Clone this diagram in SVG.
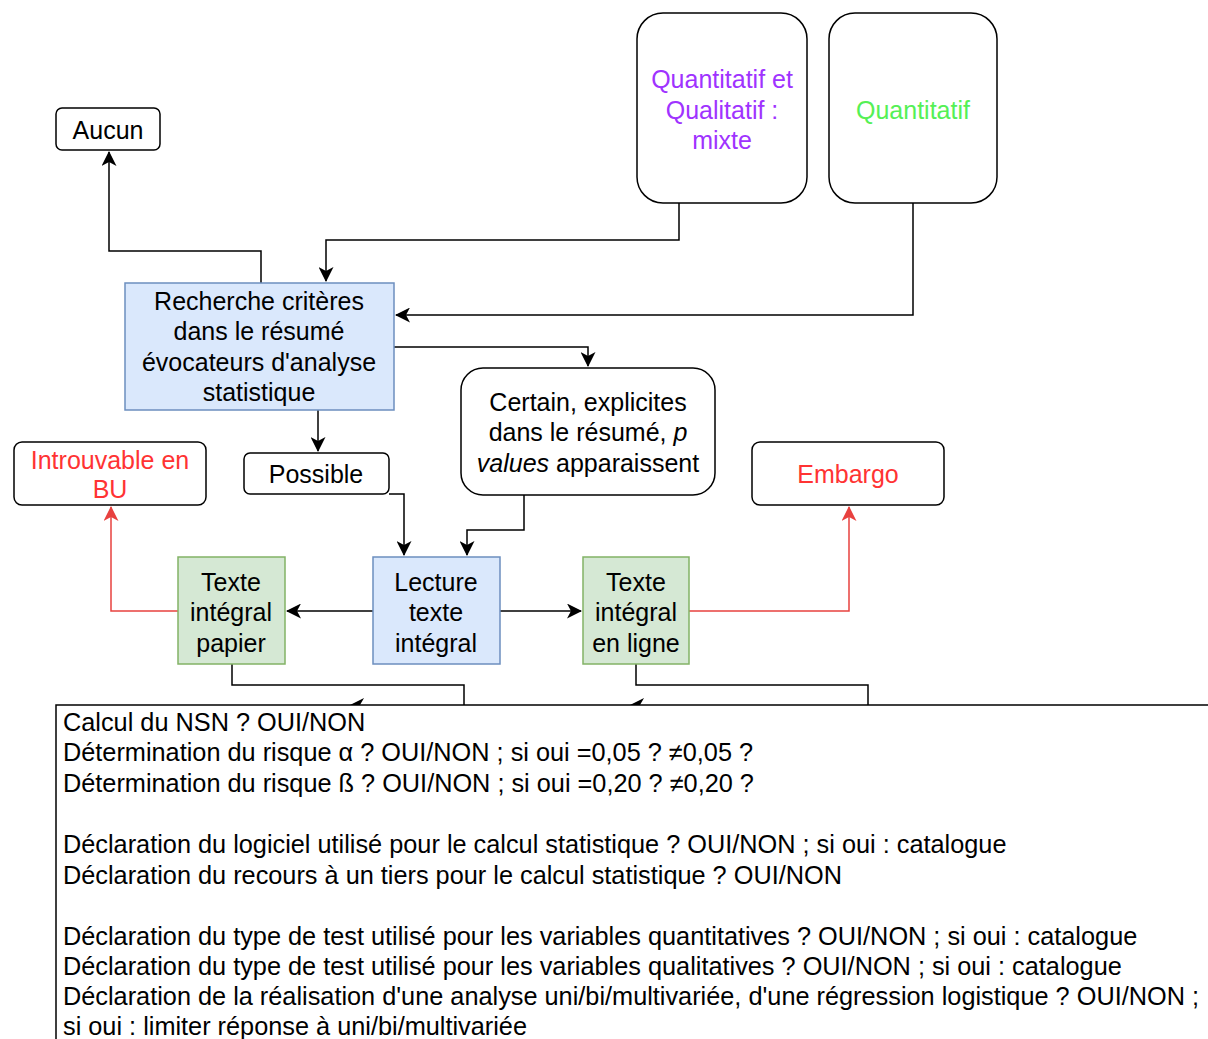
<svg xmlns="http://www.w3.org/2000/svg" width="1208" height="1039" viewBox="0 0 1208 1039">
<style>
  text { font-family: "Liberation Sans", Arial, sans-serif; font-size: 25px; fill: #000; }
  .c { text-anchor: middle; }
  .big { font-size: 25.3px; }
  .box { fill: #fff; stroke: #000; stroke-width: 1.5; }
  .blue { fill: #dae8fc; stroke: #6c8ebf; stroke-width: 1.5; }
  .green { fill: #d5e8d4; stroke: #82b366; stroke-width: 1.5; }
  .edge { fill: none; stroke: #000; stroke-width: 1.5; }
  .red { fill: none; stroke: #e8413f; stroke-width: 1.5; }
  .redtxt { fill: #ff3333; }
</style>
<defs>
  <marker id="ab" viewBox="0 0 15 15" refX="14" refY="7.5" markerWidth="15" markerHeight="15" markerUnits="userSpaceOnUse" orient="auto">
    <path d="M0,0 L15,7.5 L0,15 L4,7.5 z" fill="#000"/>
  </marker>
  <marker id="ar" viewBox="0 0 15 15" refX="14" refY="7.5" markerWidth="15" markerHeight="15" markerUnits="userSpaceOnUse" orient="auto">
    <path d="M0,0 L15,7.5 L0,15 L4,7.5 z" fill="#e8413f"/>
  </marker>
</defs>

<g id="connectors">
  <path class="edge" d="M679,203 V240 H326 V281" marker-end="url(#ab)"/>
  <path class="edge" d="M913,203 V315 H396" marker-end="url(#ab)"/>
  <path class="edge" d="M261,283 V251 H109 V152" marker-end="url(#ab)"/>
  <path class="edge" d="M394,347 H588 V366" marker-end="url(#ab)"/>
  <path class="edge" d="M318,410 V451" marker-end="url(#ab)"/>
  <path class="edge" d="M389,494 H404 V555" marker-end="url(#ab)"/>
  <path class="edge" d="M524,495 V530 H467 V555" marker-end="url(#ab)"/>
  <path class="edge" d="M373,611 H287" marker-end="url(#ab)"/>
  <path class="edge" d="M500,611 H581" marker-end="url(#ab)"/>
  <path class="red" d="M178,611 H111 V507" marker-end="url(#ar)"/>
  <path class="red" d="M689,611 H849 V507" marker-end="url(#ar)"/>
  <path class="edge" d="M232,664 V685 H464 V705"/>
  <path class="edge" d="M636,664 V685 H868 V705"/>
  <polygon points="350,705 364,698 360,705" fill="#000"/>
  <polygon points="630,705 644,698 640,705" fill="#000"/>
</g>

<g id="mixte">
  <rect class="box" x="637" y="13" width="170" height="190" rx="26"/>
  <text class="c" x="722" y="88" style="fill:#9f33ff">Quantitatif et</text>
  <text class="c" x="722" y="119" style="fill:#9f33ff">Qualitatif :</text>
  <text class="c" x="722" y="149" style="fill:#9f33ff">mixte</text>
</g>

<g id="quantitatif">
  <rect class="box" x="829" y="13" width="168" height="190" rx="26"/>
  <text class="c" x="913" y="119" style="fill:#55f055">Quantitatif</text>
</g>

<g id="aucun">
  <rect class="box" x="56" y="108" width="104" height="42" rx="6"/>
  <text class="c" x="108" y="139">Aucun</text>
</g>

<g id="recherche">
  <rect class="blue" x="125" y="283" width="269" height="127"/>
  <text class="c" x="259" y="310">Recherche critères</text>
  <text class="c" x="259" y="340">dans le résumé</text>
  <text class="c" x="259" y="371">évocateurs d'analyse</text>
  <text class="c" x="259" y="401">statistique</text>
</g>

<g id="certain">
  <rect class="box" x="461" y="368" width="254" height="127" rx="22"/>
  <text class="c" x="588" y="411">Certain, explicites</text>
  <text class="c" x="588" y="441">dans le résumé, <tspan font-style="italic">p</tspan></text>
  <text class="c" x="588" y="472"><tspan font-style="italic">values</tspan> apparaissent</text>
</g>

<g id="introuvable">
  <rect class="box" x="14" y="442" width="192" height="63" rx="8"/>
  <text class="c redtxt" x="110" y="469">Introuvable en</text>
  <text class="c redtxt" x="110" y="498">BU</text>
</g>

<g id="possible">
  <rect class="box" x="244" y="453" width="145" height="41" rx="6"/>
  <text class="c" x="316" y="483">Possible</text>
</g>

<g id="embargo">
  <rect class="box" x="752" y="442" width="192" height="63" rx="8"/>
  <text class="c redtxt" x="848" y="483">Embargo</text>
</g>

<g id="papier">
  <rect class="green" x="178" y="557" width="107" height="107"/>
  <text class="c" x="231" y="591">Texte</text>
  <text class="c" x="231" y="621">intégral</text>
  <text class="c" x="231" y="652">papier</text>
</g>

<g id="lecture">
  <rect class="blue" x="373" y="557" width="127" height="107"/>
  <text class="c" x="436" y="591">Lecture</text>
  <text class="c" x="436" y="621">texte</text>
  <text class="c" x="436" y="652">intégral</text>
</g>

<g id="enligne">
  <rect class="green" x="583" y="557" width="106" height="107"/>
  <text class="c" x="636" y="591">Texte</text>
  <text class="c" x="636" y="621">intégral</text>
  <text class="c" x="636" y="652">en ligne</text>
</g>

<g id="criteres">
  <rect class="box" x="56" y="705" width="1200" height="400"/>
  <text class="big" x="63" y="731">Calcul du NSN ? OUI/NON</text>
  <text class="big" x="63" y="761">Détermination du risque α ? OUI/NON ; si oui =0,05 ? ≠0,05 ?</text>
  <text class="big" x="63" y="792">Détermination du risque ß ? OUI/NON ; si oui =0,20 ? ≠0,20 ?</text>
  <text class="big" x="63" y="853">Déclaration du logiciel utilisé pour le calcul statistique ? OUI/NON ; si oui : catalogue</text>
  <text class="big" x="63" y="884">Déclaration du recours à un tiers pour le calcul statistique ? OUI/NON</text>
  <text class="big" x="63" y="945">Déclaration du type de test utilisé pour les variables quantitatives ? OUI/NON ; si oui : catalogue</text>
  <text class="big" x="63" y="975">Déclaration du type de test utilisé pour les variables qualitatives ? OUI/NON ; si oui : catalogue</text>
  <text class="big" x="63" y="1005">Déclaration de la réalisation d'une analyse uni/bi/multivariée, d'une régression logistique ? OUI/NON ;</text>
  <text class="big" x="63" y="1035">si oui : limiter réponse à uni/bi/multivariée</text>
</g>
</svg>
